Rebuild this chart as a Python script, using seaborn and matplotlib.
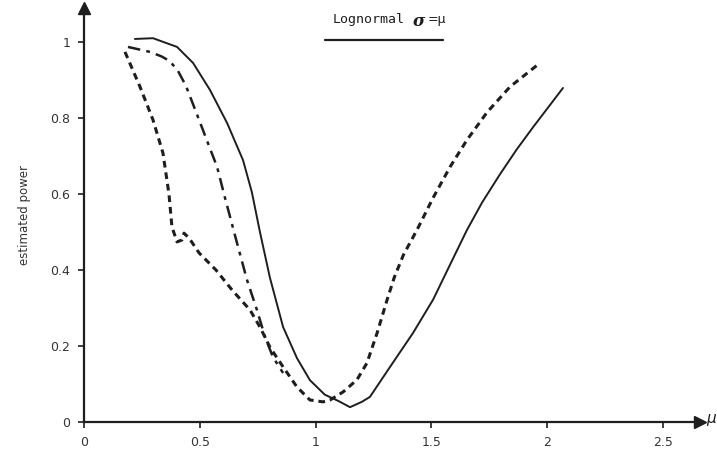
import matplotlib
matplotlib.use("Agg")
import matplotlib.pyplot as plt
import seaborn as sns
import pandas as pd
from matplotlib.lines import Line2D

# ---- data ----
solid_mu = [0.22, 0.298, 0.402, 0.471, 0.544, 0.618, 0.687, 0.725, 0.76, 0.803, 0.86, 0.92, 0.976,
            1.04, 1.10, 1.149, 1.20, 1.235, 1.322, 1.421, 1.508, 1.594, 1.654, 1.72, 1.797, 1.87, 1.94, 2.069]
solid_pw = [1.008, 1.01, 0.987, 0.945, 0.874, 0.787, 0.689, 0.605, 0.50, 0.38, 0.25, 0.168, 0.11,
            0.072, 0.055, 0.039, 0.053, 0.066, 0.145, 0.234, 0.322, 0.43, 0.505, 0.578, 0.652, 0.718, 0.776, 0.879]

dashdot_mu = [0.19, 0.285, 0.335, 0.37, 0.405, 0.44, 0.475, 0.514, 0.575, 0.609, 0.661, 0.704, 0.747, 0.782, 0.816, 0.86]
dashdot_pw = [0.987, 0.974, 0.962, 0.95, 0.925, 0.885, 0.83, 0.768, 0.671, 0.59, 0.471, 0.374, 0.295, 0.224, 0.171, 0.129]

dashed_mu = [0.177, 0.242, 0.298, 0.341, 0.367, 0.38, 0.402, 0.423, 0.432, 0.454, 0.497, 0.57, 0.64,
             0.717, 0.76, 0.803, 0.86, 0.92, 0.976, 1.032, 1.063, 1.119, 1.179, 1.222, 1.266, 1.309,
             1.34, 1.38, 1.438, 1.508, 1.581, 1.654, 1.741, 1.84, 1.97]
dashed_pw = [0.974, 0.882, 0.795, 0.708, 0.60, 0.513, 0.474, 0.479, 0.497, 0.484, 0.445, 0.40, 0.347,
             0.295, 0.25, 0.197, 0.145, 0.092, 0.058, 0.053, 0.058, 0.079, 0.111, 0.155, 0.234, 0.321,
             0.38, 0.44, 0.505, 0.59, 0.671, 0.742, 0.815, 0.882, 0.945]

xticks = [0, 0.5, 1, 1.5, 2, 2.5]
xticklabels = ["0", "0.5", "1", "1.5", "2", "2.5"]
yticks = [0, 0.2, 0.4, 0.6, 0.8, 1.0]
yticklabels = ["0", "0.2", "0.4", "0.6", "0.8", "1"]

sns.set_style("ticks")
plt.rcParams["font.family"] = ["DejaVu Sans"]

fig = plt.figure(figsize=(7.17, 4.58), dpi=100)
ax = fig.add_axes([84/717, 1-422/458, (700-84)/717, (422-8)/458])

ink = "#1e1e1e"
df_s = pd.DataFrame({"mu": solid_mu, "pw": solid_pw})
df_dd = pd.DataFrame({"mu": dashdot_mu, "pw": dashdot_pw})
df_d = pd.DataFrame({"mu": dashed_mu, "pw": dashed_pw})

sns.lineplot(data=df_s, x="mu", y="pw", ax=ax, sort=False, color=ink, lw=1.4)
sns.lineplot(data=df_dd, x="mu", y="pw", ax=ax, sort=False, color=ink, lw=1.8)
ax.lines[-1].set_dashes([5, 2.5, 1.5, 2.5])
sns.lineplot(data=df_d, x="mu", y="pw", ax=ax, sort=False, color=ink, lw=2.2)
ax.lines[-1].set_dashes([2.2, 1.6])
for ln in ax.lines:
    ln.set_solid_joinstyle("round")
    ln.set_dash_joinstyle("round")

ax.set_xlim(0, (700-84)/231.5)
ax.set_ylim(0, (422-8)/380)
ax.set_xticks(xticks)
ax.set_xticklabels(xticklabels, fontsize=9, color="#333333")
ax.set_yticks(yticks)
ax.set_yticklabels(yticklabels, fontsize=9, color="#333333")
ax.tick_params(axis="both", length=4, width=1.2, color=ink, direction="out", pad=6)
ax.set_xlabel("")
ax.set_ylabel("estimated power", fontsize=8.5, color="#333333", labelpad=14)
sns.despine(ax=ax)
for s in ["left", "bottom"]:
    ax.spines[s].set_linewidth(1.6)
    ax.spines[s].set_color(ink)

# axis arrows
ax.plot(1, 0, ">", transform=ax.transAxes, clip_on=False, color=ink, ms=9)
ax.plot(0, 1, "^", transform=ax.transAxes, clip_on=False, color=ink, ms=9)
fig.text(711/717, 1-419/458, "μ", fontsize=11, color=ink, ha="center", va="center", style="italic")

# legend-like label
fig.text(333/717, 1-20/458, "Lognormal", fontsize=9.5, family="DejaVu Sans Mono",
         color=ink, va="center", ha="left")
fig.text(413/717, 1-21/458, "σ", fontsize=12, fontweight="bold", style="italic",
         family="DejaVu Serif", color=ink, va="center", ha="left")
fig.text(428/717, 1-20/458, "=μ", fontsize=9, color=ink, va="center", ha="left")
fig.add_artist(Line2D([325/717, 443/717], [1-40/458, 1-40/458], color=ink, lw=1.6,
                      transform=fig.transFigure))

fig.savefig("out.png", dpi=100, facecolor="white")
